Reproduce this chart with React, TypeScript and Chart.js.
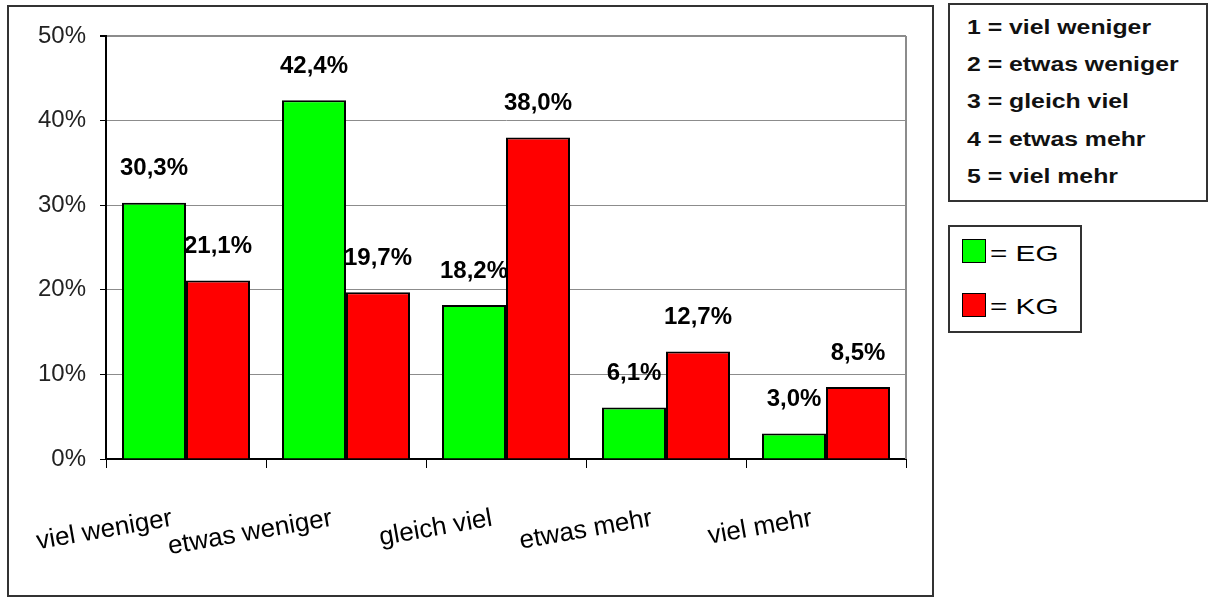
import React, { useEffect, useRef } from 'react';
import { Chart, registerables } from 'chart.js';

Chart.register(...registerables);

const CATEGORIES = ['viel weniger', 'etwas weniger', 'gleich viel', 'etwas mehr', 'viel mehr'];
const SERIES_LABELS = ['EG', 'KG'];
const EG_VALUES = [30.3, 42.4, 18.2, 6.1, 3.0];
const KG_VALUES = [21.1, 19.7, 38.0, 12.7, 8.5];
const SERIES_COLORS = ['#00FF00', '#FF0000'];
const Y_MIN = 0;
const Y_MAX = 50;
const Y_STEP = 10;

const FONT = 'Arial, "Liberation Sans", sans-serif';

const fmt = (v: number) => v.toFixed(1).replace('.', ',') + '%';

const valueLabels = {
  id: 'valueLabels',
  afterDatasetsDraw(chart: any) {
    const ctx = chart.ctx;
    ctx.save();
    ctx.font = `bold 24px ${FONT}`;
    ctx.fillStyle = '#000';
    ctx.textAlign = 'center';
    ctx.textBaseline = 'middle';
    chart.data.datasets.forEach((ds: any, i: number) => {
      const meta = chart.getDatasetMeta(i);
      meta.data.forEach((bar: any, j: number) => {
        ctx.fillText(fmt(ds.data[j]), bar.x, bar.y - 34);
      });
    });
    ctx.restore();
  },
};

const frameRight = {
  id: 'frameRight',
  beforeDatasetsDraw(chart: any) {
    const { ctx, chartArea } = chart;
    ctx.save();
    ctx.strokeStyle = '#8c8c8c';
    ctx.lineWidth = 2;
    ctx.beginPath();
    ctx.moveTo(chartArea.right, chartArea.top);
    ctx.lineTo(chartArea.right, chartArea.bottom);
    ctx.stroke();
    ctx.restore();
  },
};

export default function App() {
  const canvasRef = useRef<HTMLCanvasElement | null>(null);

  useEffect(() => {
    if (!canvasRef.current) return;
    const chart = new Chart(canvasRef.current, {
      type: 'bar',
      data: {
        labels: CATEGORIES,
        datasets: [
          {
            label: SERIES_LABELS[0],
            data: EG_VALUES,
            backgroundColor: SERIES_COLORS[0],
            borderColor: '#000',
            borderWidth: 2,
            categoryPercentage: 0.8,
            barPercentage: 1,
          },
          {
            label: SERIES_LABELS[1],
            data: KG_VALUES,
            backgroundColor: SERIES_COLORS[1],
            borderColor: '#000',
            borderWidth: 2,
            categoryPercentage: 0.8,
            barPercentage: 1,
          },
        ],
      },
      options: {
        responsive: false,
        animation: false,
        layout: { padding: { left: 16, right: 304, top: 36, bottom: 0 } },
        plugins: {
          legend: { display: false },
          tooltip: { enabled: false },
        },
        scales: {
          x: {
            ticks: {
              font: { family: FONT, size: 26 },
              color: '#000',
              minRotation: 10,
              maxRotation: 10,
              autoSkip: false,
              padding: 35,
              labelOffset: -14,
            },
            grid: {
              drawOnChartArea: false,
              drawTicks: true,
              tickLength: 9,
              tickColor: '#000',
              color: '#000',
              offset: true,
            },
            border: { color: '#000', width: 2 },
            afterFit: (s: any) => {
              s.height = 141;
            },
          },
          y: {
            min: Y_MIN,
            max: Y_MAX,
            ticks: {
              stepSize: Y_STEP,
              callback: (v: any) => v + '%',
              font: { family: FONT, size: 24 },
              color: '#222',
              padding: 14,
            },
            grid: {
              color: (c: any) => (c.tick && c.tick.value === 0 ? 'rgba(0,0,0,0)' : '#8c8c8c'),
              lineWidth: (c: any) => (c.tick && c.tick.value === Y_MAX ? 2 : 1),
              tickColor: '#000',
              tickLength: 6,
              drawTicks: true,
            },
            border: { color: '#000', width: 2 },
            afterFit: (s: any) => {
              s.width = 90;
            },
          },
        },
      },
      plugins: [frameRight, valueLabels],
    } as any);
    return () => chart.destroy();
  }, []);

  const boxBase: React.CSSProperties = {
    position: 'absolute',
    border: '2px solid #333',
    boxSizing: 'border-box',
    background: '#fff',
  };

  return (
    <div
      style={{
        position: 'fixed',
        left: 0,
        top: 0,
        width: 1210,
        height: 600,
        background: '#fff',
        overflow: 'hidden',
        fontFamily: FONT,
      }}
    >
      <canvas
        ref={canvasRef}
        width={1210}
        height={600}
        style={{ position: 'absolute', left: 0, top: 0, width: 1210, height: 600 }}
      />
      <div
        style={{
          position: 'absolute',
          left: 7,
          top: 5,
          width: 927,
          height: 592,
          border: '2px solid #333',
          boxSizing: 'border-box',
          pointerEvents: 'none',
        }}
      />
      <div style={{ ...boxBase, left: 948, top: 3, width: 260, height: 199 }}>
        {CATEGORIES.map((c, i) => (
          <div
            key={c}
            style={{
              position: 'absolute',
              left: 17,
              top: 25 + i * 37.2 - 3 - 11,
              height: 22,
              lineHeight: '22px',
              fontSize: 20,
              fontWeight: 'bold',
              color: '#111',
              whiteSpace: 'nowrap',
              transform: 'scaleX(1.24)',
              transformOrigin: 'left center',
            }}
          >
            {`${i + 1} = ${c}`}
          </div>
        ))}
      </div>
      <div style={{ ...boxBase, left: 948, top: 225, width: 134, height: 108 }}>
        {SERIES_LABELS.map((s, i) => (
          <React.Fragment key={s}>
            <div
              style={{
                position: 'absolute',
                left: 12,
                top: 12 + i * 54,
                width: 24,
                height: 24,
                background: SERIES_COLORS[i],
                border: '1.5px solid #000',
                boxSizing: 'border-box',
              }}
            />
            <div
              style={{
                position: 'absolute',
                left: 40,
                top: 27 + i * 53 - 13,
                height: 26,
                lineHeight: '26px',
                fontSize: 22,
                color: '#000',
                whiteSpace: 'nowrap',
                transform: 'scaleX(1.35)',
                transformOrigin: 'left center',
              }}
            >
              {`= ${s}`}
            </div>
          </React.Fragment>
        ))}
      </div>
    </div>
  );
}
